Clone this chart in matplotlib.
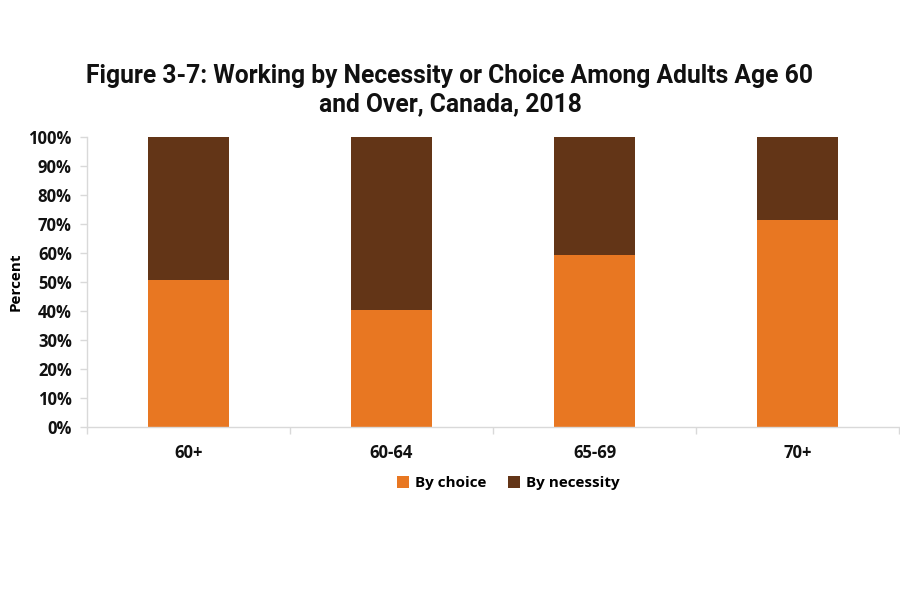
import matplotlib.pyplot as plt
import numpy as np
from matplotlib.ticker import PercentFormatter

# Datos
age_groups = ['60+', '60-64', '65-69', '70+']
by_choice = [50.7, 40.4, 59.4, 71.4]
by_necessity = [100 - v for v in by_choice]

orange = '#E87722'
brown = '#633517'
grid_gray = '#D9D9D9'
body_font = ['Open Sans', 'DejaVu Sans']

fig = plt.figure(figsize=(9, 6), dpi=100)
ax = fig.add_axes([0.0967, 0.2883, 0.9023, 0.4834])

x = np.arange(len(age_groups))
ax.bar(x, by_choice, width=0.40, color=orange, label='By choice')
ax.bar(x, by_necessity, width=0.40, bottom=by_choice, color=brown, label='By necessity')

ax.set_xlim(-0.5, len(age_groups) - 0.5)
ax.set_ylim(0, 100)
ax.set_yticks(np.arange(0, 101, 10))
ax.yaxis.set_major_formatter(PercentFormatter(decimals=0))

ax.set_xticks(x)
ax.set_xticklabels(age_groups)
ax.set_xticks(np.arange(-0.5, len(age_groups)), minor=True)
ax.tick_params(axis='x', which='major', length=0, pad=12)
ax.tick_params(axis='x', which='minor', length=5, color=grid_gray, width=1)
ax.tick_params(axis='y', length=5, color=grid_gray, width=1, pad=6)

for side in ['top', 'right']:
    ax.spines[side].set_visible(False)
for side in ['left', 'bottom']:
    ax.spines[side].set_color(grid_gray)
    ax.spines[side].set_linewidth(1)

for lbl in ax.get_xticklabels() + ax.get_yticklabels():
    lbl.set_fontfamily(body_font)
    lbl.set_fontweight('bold')
    lbl.set_fontsize(12)
    lbl.set_color('#111111')

ax.set_ylabel('Percent', fontfamily=body_font, fontweight='bold',
              fontsize=11, labelpad=4)

fig.text(0.5, 0.85, 'Figure 3-7: Working by Necessity or Choice Among Adults Age 60\nand Over, Canada, 2018',
         ha='center', va='center', fontsize=17.7, fontweight='bold', linespacing=1.22,
         family=['Roboto', 'DejaVu Sans'], color='#111111')

leg = fig.legend(loc='center', bbox_to_anchor=(0.565, 0.195), ncol=2, frameon=False,
                 handlelength=0.8, handleheight=0.8, handletextpad=0.4, columnspacing=1.4,
                 prop=dict(family=body_font, weight='bold', size=11))

fig.savefig('out.png', dpi=100)
